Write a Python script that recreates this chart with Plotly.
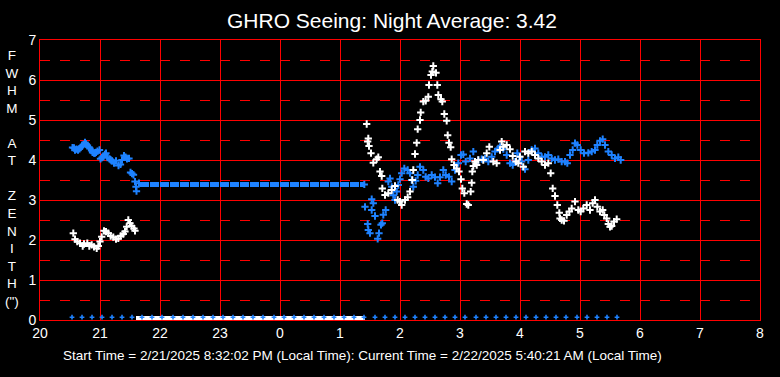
import plotly.graph_objects as go

# ---------------- data (time = minutes after 20:00 local) ----------------
TITLE = "GHRO Seeing: Night Average: 3.42"
FOOTER = "Start Time = 2/21/2025 8:32:02 PM (Local Time): Current Time = 2/22/2025 5:40:21 AM (Local Time)"
YLABEL_LETTERS = ["F", "W", "H", "M", " ", "A", "T", " ", "Z", "E", "N", "I", "T", "H", "(\")"]

tick_minutes = [0, 60, 120, 180, 240, 300, 360, 420, 480, 540, 600, 660, 720]
tick_labels = ["20", "21", "22", "23", "0", "1", "2", "3", "4", "5", "6", "7", "8"]

# blue series before the flat stretch
blue_t1 = [32.5, 34, 35, 36.5, 38, 39.5, 40.5, 42, 43.5, 45, 46, 47.5, 49, 50, 51.5, 52.5, 54, 55,
           56, 57.5, 59.5, 60.5, 62, 63.5, 65, 66, 67.5, 69.5, 70.5, 72, 74, 76, 78.5, 80.5, 82, 84,
           85.5, 87, 89, 90.5, 92, 93.5, 95, 96, 96.5, 99]
blue_v1 = [4.31, 4.30, 4.25, 4.27, 4.25, 4.28, 4.31, 4.35, 4.39, 4.44, 4.40, 4.36, 4.32, 4.29, 4.24,
           4.19, 4.17, 4.17, 4.19, 4.22, 4.25, 4.03, 4.06, 4.08, 4.14, 4.17, 4.06, 4.03, 4.01, 3.98,
           3.92, 3.98, 3.86, 3.89, 4.00, 4.11, 4.07, 4.03, 4.04, 3.69, 3.66, 3.63, 3.46, 3.33, 3.22,
           3.42]

# flat blue stretch (constant value)
blue_flat_t = [100, 325]
blue_flat_v = [3.39, 3.39]

# blue series after the flat stretch
blue_t2 = [324.3, 325, 327.7, 328.3, 330, 331.7, 333.3, 331.7, 335, 337.7, 339, 341, 342.3, 343.3,
           345.7, 348.3, 350, 351.7, 353.3, 355, 356.7, 358.3, 360, 361.7, 364.3, 367.7, 370, 371.7,
           373.3, 375.7, 377.7, 380, 383.3, 385.7, 388.3, 391.7, 395, 397.7, 400, 403.3, 405.7, 409,
           411.7, 415, 418.3, 421, 423.3, 425.7, 430, 433.3, 438.3, 441.7, 445, 448.3, 451.7, 455,
           458.3, 460, 463.3, 466.7, 470, 472.7, 475, 477.3, 479.3, 481.7, 485, 488.3, 491.7, 495,
           498.3, 501.7, 505, 508.3, 511.7, 515, 518.3, 521.7, 525, 527.3, 530, 532.7, 535, 537.3,
           540.7, 544, 548.3, 551.7, 555, 557.3, 560, 562.7, 565, 568.3, 571.7, 575, 578.3, 580.7]
blue_v2 = [3.39, 2.83, 2.40, 2.25, 2.17, 3.02, 2.92, 2.75, 2.60, 2.03, 2.17, 2.38, 2.42, 2.63,
           2.75, 3.46, 3.54, 3.33, 3.12, 3.00, 3.21, 3.375, 3.52, 3.67, 3.79, 3.75, 3.67, 3.50,
           3.33, 3.48, 3.625, 3.83, 3.75, 3.58, 3.54, 3.625, 3.57, 3.42, 3.57, 3.75, 3.625, 3.58,
           3.46, 3.75, 3.92, 4.125, 4.14, 3.96, 4.04, 4.21, 4.00, 4.02, 4.04, 3.96, 4.08, 4.21,
           4.29, 4.33, 4.27, 4.125, 3.92, 3.875, 3.96, 4.17, 4.08, 3.96, 3.77, 4.00, 4.25, 4.29,
           4.17, 4.08, 4.08, 4.125, 4.04, 4.00, 4.02, 3.96, 3.96, 3.92, 4.125, 4.25, 4.42, 4.375,
           4.25, 4.17, 4.18, 4.21, 4.25, 4.375, 4.48, 4.52, 4.375, 4.21, 4.125, 4.04, 4.07, 4.00,
           3.96, 3.92]

# white series
white_t1 = [33.3, 35, 37.3, 40, 42.7, 44, 47.3, 49.3, 51.7, 54, 56.7, 58.3, 60, 61.7, 64, 66,
            68.3, 70.7, 73.3, 76, 78.3, 80.7, 83.3, 85, 86.7, 88.3, 90, 91.7, 94, 95]
white_v1 = [2.17, 2.02, 1.96, 1.92, 1.85, 1.90, 1.92, 1.85, 1.88, 1.83, 1.79, 1.85, 1.96, 2.08,
            2.23, 2.21, 2.17, 2.10, 2.07, 2.02, 2.04, 2.10, 2.15, 2.21, 2.33, 2.50, 2.42, 2.35,
            2.29, 2.23]

white_t2 = [326.7, 327.7, 328.3, 329, 331, 333.3, 336.7, 338.3, 340, 341.7, 342.3, 345, 348.3,
            351.7, 355, 357.7, 360, 361.7, 365, 367.7, 370, 372.3, 373.3, 375, 376.7, 377.7, 380,
            380.7, 383.3, 385.7, 388.3, 389, 391, 392.3, 393.3, 396, 397.3, 398.3, 401, 402.3,
            404.3, 406.7, 407.7, 409, 410.7, 411.7, 414, 416.7, 419, 421, 422.3, 424.3, 426.7,
            428.3, 430.7, 431.7, 432.3, 433.3, 435, 436.7, 438.3, 443.3, 446.7, 449.3, 453.3,
            456.7, 460, 461.7, 463.3, 466.7, 470, 472.7, 476, 478.3, 480, 483.3, 485, 488.3,
            491.7, 495, 498.3, 501.7, 505, 508.3, 510.7, 512.7, 515, 517.3, 519.3, 520, 521.7,
            524, 526.7, 529.3, 531.7, 535, 538.3, 540.7, 543.3, 546.7, 550, 552.7, 555, 557.3,
            560, 562.7, 564.3, 566.7, 568.3, 570, 571.7, 574, 576.7, 579.3, 580.7]
white_v2 = [4.90, 4.46, 4.54, 4.35, 4.17, 3.93, 4.02, 4.07, 3.71, 3.60, 3.29, 3.125, 3.17,
            3.25, 3.35, 3.00, 2.96, 2.875, 3.00, 3.07, 3.21, 3.50, 3.75, 4.15, 4.43, 4.77, 5.00,
            5.19, 5.46, 5.48, 5.58, 5.875, 6.125, 6.21, 6.35, 6.18, 5.875, 5.625, 5.52, 5.46,
            5.15, 4.98, 4.62, 4.43, 4.32, 4.02, 3.875, 3.79, 3.71, 3.52, 3.29, 3.17, 2.90, 2.875,
            3.21, 3.43, 3.71, 3.85, 3.96, 3.875, 4.00, 4.00, 4.17, 4.33, 3.96, 3.92, 4.25, 4.46,
            4.33, 4.375, 4.27, 4.10, 3.96, 3.92, 4.08, 3.83, 4.21, 4.17, 4.21, 4.125, 4.04, 3.96,
            3.875, 3.92, 3.67, 3.29, 3.10, 2.875, 2.68, 2.54, 2.50, 2.48, 2.625, 2.71, 2.79, 2.96,
            2.75, 2.71, 2.79, 2.875, 2.75, 2.92, 3.00, 2.83, 2.71, 2.75, 2.625, 2.54, 2.40, 2.33,
            2.35, 2.46, 2.52]

# status markers along the bottom
status_blue_t = [32, 42, 52, 62, 72, 82, 92, 102, 112, 122, 133, 143, 153, 163, 173, 183, 193,
                 203, 213, 223, 234, 244, 254, 264, 274, 284, 294, 304, 314, 324, 335, 345, 355,
                 365, 375, 385, 395, 405, 415, 425, 436, 446, 456, 466, 476, 486, 496, 506, 516,
                 526, 537, 547, 557, 567, 577]
status_blue_v = [0.07] * len(status_blue_t)
status_white_t = [96, 325]
status_white_v = [0.05, 0.05]

BLUE = "#1E82FF"
WHITE = "#FFFFFF"
RED = "#FF0000"
FONT = "Liberation Sans, Arial, sans-serif"

W, H = 780, 377
ML, MR, MT, MB = 40, 20, 40, 57
PW, PH = W - ML - MR, H - MT - MB


def px_x(x):
    return (x - ML) / PW


def px_y(y):
    return (H - MB - y) / PH


MK = dict(symbol="cross-thin", size=5.2)

fig = go.Figure()

fig.add_trace(go.Scatter(x=blue_flat_t, y=blue_flat_v, mode="lines",
                         line=dict(color=BLUE, width=5, dash="9px,1px"), hoverinfo="skip"))
fig.add_trace(go.Scatter(x=blue_t1, y=blue_v1, mode="markers",
                         marker=dict(**MK, line=dict(color=BLUE, width=2))))
fig.add_trace(go.Scatter(x=blue_t2, y=blue_v2, mode="markers",
                         marker=dict(**MK, line=dict(color=BLUE, width=2))))
fig.add_trace(go.Scatter(x=white_t1, y=white_v1, mode="markers",
                         marker=dict(**MK, line=dict(color=WHITE, width=2))))
fig.add_trace(go.Scatter(x=white_t2, y=white_v2, mode="markers",
                         marker=dict(**MK, line=dict(color=WHITE, width=2))))
fig.add_trace(go.Scatter(x=status_white_t, y=status_white_v, mode="lines",
                         line=dict(color=WHITE, width=4), hoverinfo="skip"))
fig.add_trace(go.Scatter(x=status_blue_t, y=status_blue_v, mode="markers",
                         marker=dict(symbol="cross-thin", size=3.4, line=dict(color=BLUE, width=1.6))))

fig.update_layout(
    width=W, height=H,
    margin=dict(l=ML, r=MR, t=MT, b=MB),
    paper_bgcolor="black", plot_bgcolor="black",
    showlegend=False,
    hovermode=False,
    font=dict(family=FONT, color="white", size=13),
    title=dict(text=TITLE, x=392 / W, xref="container", xanchor="center",
               y=1 - 21 / H, yanchor="middle", font=dict(size=21, color="white", family=FONT)),
)
fig.update_xaxes(range=[0, 720], tickvals=tick_minutes, ticktext=tick_labels,
                 showgrid=True, gridcolor=RED, gridwidth=1, zeroline=False,
                 showline=True, linecolor=RED, linewidth=1, mirror=True, ticks="",
                 tickfont=dict(color="white", size=14, family=FONT))
fig.update_yaxes(range=[0, 7], tick0=0, dtick=1,
                 showgrid=True, gridcolor=RED, gridwidth=1, zeroline=False,
                 showline=True, linecolor=RED, linewidth=1, mirror=True, ticks="",
                 tickfont=dict(color="white", size=14, family=FONT),
                 minor=dict(tick0=0.5, dtick=1, showgrid=True, gridcolor=RED, gridwidth=1,
                            griddash="10px,10px", ticks=""))

fig.add_annotation(text="<br>".join(YLABEL_LETTERS), xref="paper", yref="paper",
                   x=px_x(12), y=px_y(178), xanchor="center", yanchor="middle",
                   showarrow=False, align="center",
                   font=dict(size=13.5, color="white", family=FONT))
fig.add_annotation(text=FOOTER, xref="paper", yref="paper",
                   x=px_x(362), y=px_y(355), xanchor="center", yanchor="middle",
                   showarrow=False, font=dict(size=13.5, color="white", family=FONT))

# remove the browser's default 8px page margin so the figure sits at the window origin
fig.write_html("out.html",
               config={"displayModeBar": False, "staticPlot": True},
               post_script="document.body.style.margin='0';document.body.style.background='black';")
